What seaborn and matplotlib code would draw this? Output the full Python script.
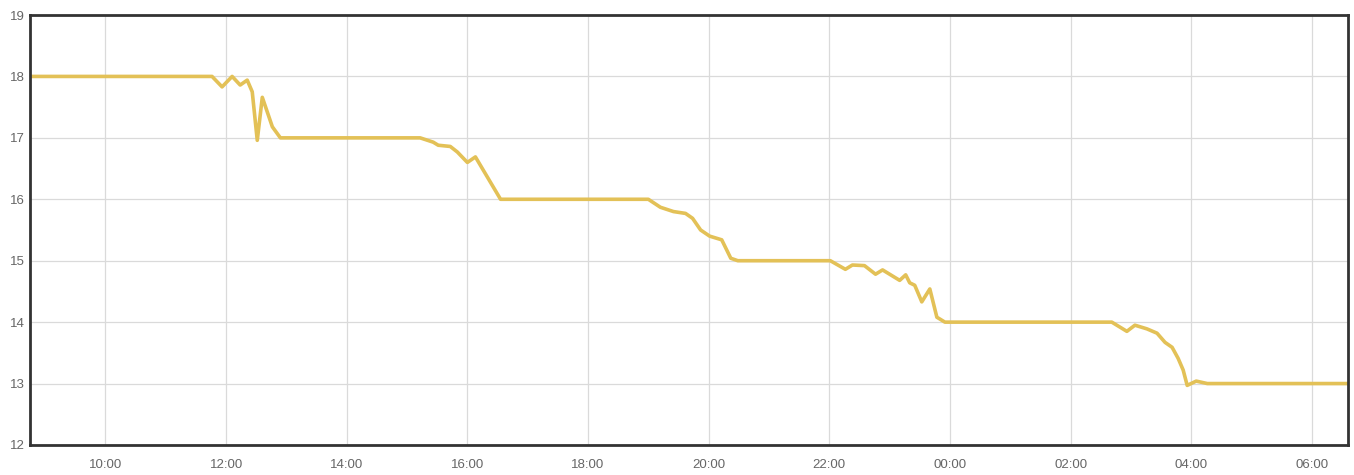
import pandas as pd
import numpy as np
import seaborn as sns
import matplotlib.pyplot as plt
import matplotlib.dates as mdates

times = ['08:45', '11:46', '11:56', '12:06', '12:14', '12:21', '12:26', '12:31', '12:36', '12:46',
         '12:54', '15:13', '15:26', '15:31', '15:43', '15:50', '16:00', '16:08', '16:33', '19:00',
         '19:12', '19:25', '19:37', '19:44', '19:52', '20:01', '20:13', '20:22', '20:29', '22:01',
         '22:16', '22:23', '22:35', '22:46', '22:53', '23:10', '23:16', '23:20', '23:25', '23:32',
         '23:40', '23:47', '23:55', '02:41', '02:56', '03:04', '03:16', '03:26', '03:34', '03:41',
         '03:47', '03:52', '03:56', '04:05', '04:16', '06:36']
values = [18.0, 18.0, 17.83, 18.0, 17.86, 17.94, 17.75, 16.96, 17.66, 17.18,
          17.0, 17.0, 16.93, 16.88, 16.86, 16.77, 16.6, 16.69, 16.0, 16.0,
          15.87, 15.8, 15.77, 15.69, 15.5, 15.4, 15.34, 15.04, 15.0, 15.0,
          14.86, 14.93, 14.92, 14.78, 14.85, 14.68, 14.77, 14.64, 14.6, 14.33,
          14.54, 14.08, 14.0, 14.0, 13.85, 13.95, 13.89, 13.82, 13.67, 13.59,
          13.41, 13.22, 12.97, 13.04, 13.0, 13.0]

# build timestamps, rolling over midnight
ts = pd.to_datetime(['2024-01-01 ' + t for t in times])
day_shift = np.concatenate([[0], np.cumsum(np.diff(ts.values).astype('int64') < 0)])
ts = ts + pd.to_timedelta(day_shift, unit='D')
df = pd.DataFrame({'time': ts, 'value': values})

sns.set_style('white')
plt.rcParams['font.family'] = ['Liberation Sans', 'DejaVu Sans']

fig = plt.figure(figsize=(13.54, 4.75), dpi=100)
ax = fig.add_axes([0.0222, 0.0632, 0.9734, 0.9052])

sns.lineplot(data=df, x='time', y='value', ax=ax, color='#e3c157', linewidth=2.6)

ax.set_xlim(pd.Timestamp('2024-01-01 08:45'), pd.Timestamp('2024-01-02 06:36'))
ax.set_ylim(12, 19)
ax.set_yticks(range(12, 20))
ax.xaxis.set_major_locator(mdates.HourLocator(byhour=range(0, 24, 2)))
ax.xaxis.set_major_formatter(mdates.DateFormatter('%H:%M'))

ax.grid(True, color='#dadada', linewidth=0.9)
ax.set_axisbelow(True)
for s in ax.spines.values():
    s.set_color('#333333')
    s.set_linewidth(2)
ax.tick_params(length=0, labelsize=9.5, colors='#666666')
ax.tick_params(axis='x', pad=10)
ax.tick_params(axis='y', pad=4)
ax.set_xlabel('')
ax.set_ylabel('')

fig.savefig('out.png', dpi=100)
